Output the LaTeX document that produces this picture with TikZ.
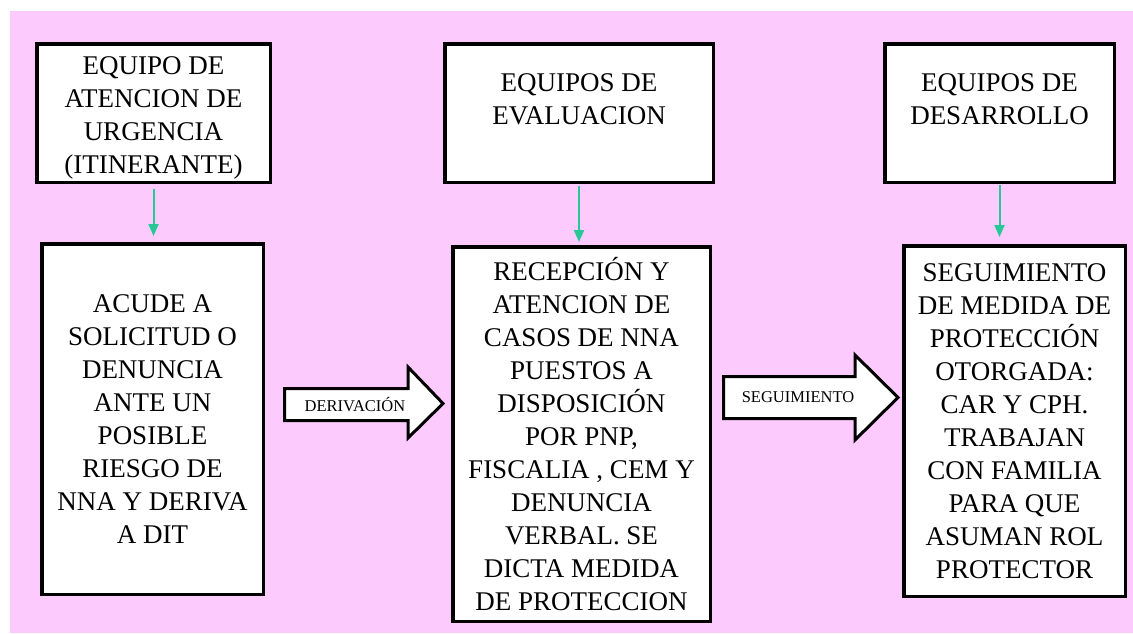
\documentclass[tikz,border=0pt]{standalone}
\usepackage{fontspec}
\setmainfont{Liberation Serif}
\usetikzlibrary{arrows.meta}
\definecolor{fondo}{RGB}{252,202,252}
\definecolor{verde}{RGB}{38,201,150}

\begin{document}
\begin{tikzpicture}[x=1pt,y=-1pt,
  caja/.style={draw=black,line width=3.5pt,fill=white,align=center,inner sep=2pt,
    font=\fontsize{27}{33}\selectfont},
  flecha/.style={draw=verde,line width=2pt,-{Triangle[width=10pt,length=12pt]}},
  bloque/.style={draw=black,line width=3pt,fill=white},
  rotulo/.style={font=\fontsize{16.5}{20}\selectfont}]
  \useasboundingbox (0,0) rectangle (1133,633);
  \fill[fondo] (10,11) rectangle (1133,633);

  \node[caja,minimum width=233.5pt,minimum height=138.5pt] at (153.5,113) (atencion)
    {\rule{0pt}{28pt}EQUIPO DE\\ATENCION DE\\URGENCIA\\(ITINERANTE)};
  \node[caja,minimum width=221.5pt,minimum height=350.5pt] at (152.5,419) (acude)
    {ACUDE A\\SOLICITUD O\\DENUNCIA\\ANTE UN\\POSIBLE\\RIESGO DE\\NNA Y DERIVA\\A DIT};
  \draw[flecha,shorten <=5pt,shorten >=6pt] (atencion.south) -- (atencion.south |- acude.north);

  \node[caja,minimum width=268.5pt,minimum height=138.5pt] at (579,113) (evaluacion)
    {\rule{0pt}{22pt}EQUIPOS DE\\EVALUACION\\\mbox{}};
  \node[caja,minimum width=257.5pt,minimum height=374.5pt] at (581.5,434) (recepcion)
    {RECEPCIÓN Y\\ATENCION DE\\CASOS DE NNA\\PUESTOS A\\DISPOSICIÓN\\POR PNP,\\FISCALIA , CEM Y\\DENUNCIA\\VERBAL. SE\\DICTA MEDIDA\\DE PROTECCION};
  \draw[flecha,shorten <=2pt,shorten >=3pt] (evaluacion.south) -- (evaluacion.south |- recepcion.north);

  \node[caja,minimum width=229.5pt,minimum height=138.5pt] at (999.5,113) (desarrollo)
    {\rule{0pt}{22pt}EQUIPOS DE\\DESARROLLO\\\mbox{}};
  \node[caja,minimum width=221.5pt,minimum height=350.5pt] at (1014.5,421) (otorgada)
    {SEGUIMIENTO\\DE MEDIDA DE\\PROTECCIÓN\\OTORGADA:\\CAR Y CPH.\\TRABAJAN\\CON FAMILIA\\PARA QUE\\ASUMAN ROL\\PROTECTOR};
  \draw[flecha,shorten <=1pt,shorten >=7pt] (desarrollo.south) -- (desarrollo.south |- otorgada.north);

  % flechas anchas
  \draw[bloque] (284.5,388.5) -- (408,388.5) -- (408,367) -- (443,403.5)
    -- (408,438) -- (408,420.5) -- (284.5,420.5) -- cycle;
  \node[rotulo] at (355,404.5) (derivacion) {DERIVACIÓN};

  \draw[bloque] (723.5,376.5) -- (855,376.5) -- (855,355) -- (898,397.5)
    -- (855,440) -- (855,418.5) -- (723.5,418.5) -- cycle;
  \node[rotulo] at (798,397.5) (seguimiento) {SEGUIMIENTO};
\end{tikzpicture}
\end{document}
